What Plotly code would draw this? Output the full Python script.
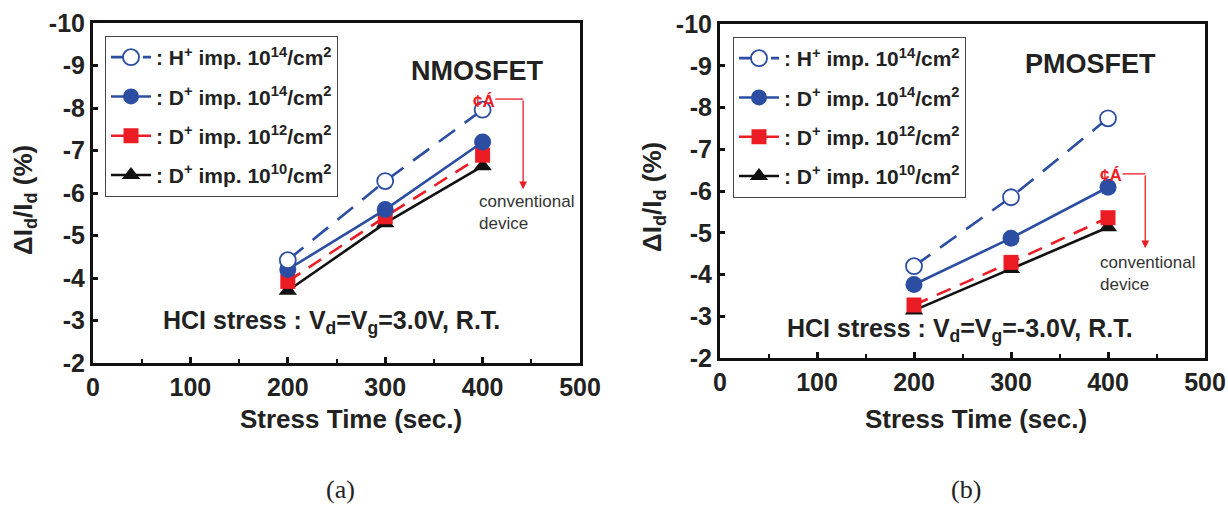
import plotly.graph_objects as go

# ---------------- data ----------------
stress_time = [200, 300, 400]

series_names = [
    ": H<sup>+</sup> imp. 10<sup>14</sup>/cm<sup>2</sup>",
    ": D<sup>+</sup> imp. 10<sup>14</sup>/cm<sup>2</sup>",
    ": D<sup>+</sup> imp. 10<sup>12</sup>/cm<sup>2</sup>",
    ": D<sup>+</sup> imp. 10<sup>10</sup>/cm<sup>2</sup>",
]

# (a) NMOSFET  ΔId/Id (%)
nmos_h14 = [-4.42, -6.28, -7.96]
nmos_d14 = [-4.20, -5.61, -7.20]
nmos_d12 = [-3.92, -5.44, -6.89]
nmos_d10 = [-3.70, -5.29, -6.63]

# (b) PMOSFET  ΔId/Id (%)
pmos_h14 = [-4.20, -5.85, -7.74]
pmos_d14 = [-3.76, -4.87, -6.09]
pmos_d12 = [-3.27, -4.29, -5.36]
pmos_d10 = [-3.14, -4.13, -5.13]

x_tick_vals = [0, 100, 200, 300, 400, 500]
x_tick_text = ["0", "100", "200", "300", "400", "500"]
y_tick_vals = [-10, -9, -8, -7, -6, -5, -4, -3, -2]
y_tick_text = ["-10", "-9", "-8", "-7", "-6", "-5", "-4", "-3", "-2"]

# ---------------- styles ----------------
W, H = 1228, 508
BLUE = "#2b4ea2"
RED = "#ec1c24"
BLACK = "#111111"
TXT = "#222222"
FONT = "Liberation Sans"

styles = [
    dict(color=BLUE, dash="20px,12px", symbol="circle-open", msize=16, mline=1.8),
    dict(color=BLUE, dash="solid", symbol="circle", msize=17, mline=0),
    dict(color=RED, dash="15px,10px", symbol="square", msize=15, mline=0),
    dict(color=BLACK, dash="solid", symbol="triangle-up", msize=16, mline=0),
]

fig = go.Figure()


def add_panel(values, xa, ya, legend_name):
    # draw bottom series first so that upper series markers sit on top
    for i in reversed(range(4)):
        st = styles[i]
        marker = dict(symbol=st["symbol"], size=st["msize"], color=st["color"])
        if st["symbol"] == "circle-open":
            marker = dict(symbol="circle", size=st["msize"], color="white",
                          line=dict(color=st["color"], width=st["mline"]))
        fig.add_trace(go.Scatter(
            x=stress_time, y=values[i], mode="lines+markers",
            name=series_names[i],
            line=dict(color=st["color"], width=2.6, dash=st["dash"]),
            marker=marker,
            xaxis=xa, yaxis=ya,
            legend=legend_name,
            legendgroup=legend_name + str(i),
            legendrank=i + 1,
        ))


add_panel([nmos_h14, nmos_d14, nmos_d12, nmos_d10], "x", "y", "legend")
add_panel([pmos_h14, pmos_d14, pmos_d12, pmos_d10], "x2", "y2", "legend2")


def px_x(p):
    return p / W


def px_y(p):
    return 1 - p / H


axis_common = dict(
    showgrid=False, zeroline=False, showline=True, linewidth=3, linecolor=BLACK,
    mirror=True, ticks="inside", tickwidth=2.5, tickcolor=BLACK, automargin=False,
    tickfont=dict(family=FONT, size=25, color=TXT, weight="bold"),
)

xaxis_common = dict(axis_common, range=[0, 500], tickmode="array",
                    tickvals=x_tick_vals, ticktext=x_tick_text, ticklen=6,
                    minor=dict(dtick=50, tick0=0, ticks="inside", ticklen=4,
                               tickwidth=2, tickcolor=BLACK))
yaxis_common = dict(axis_common, range=[-2, -10], tickmode="array",
                    tickvals=y_tick_vals, ticktext=y_tick_text, ticklen=5)

legend_common = dict(xanchor="left", yanchor="top", bgcolor="white",
                     bordercolor="#444444", borderwidth=1,
                     font=dict(family=FONT, size=21, color=TXT, weight="bold"),
                     tracegroupgap=9, itemwidth=40)

fig.update_layout(
    width=W, height=H,
    margin=dict(l=0, r=0, t=0, b=0, pad=0, autoexpand=False),
    paper_bgcolor="white", plot_bgcolor="white",
    font=dict(family=FONT, color=TXT),
    xaxis=dict(xaxis_common, domain=[px_x(93), px_x(580)], anchor="y"),
    yaxis=dict(yaxis_common, domain=[px_y(363), px_y(23)], anchor="x"),
    xaxis2=dict(xaxis_common, domain=[px_x(720), px_x(1205)], anchor="y2"),
    yaxis2=dict(yaxis_common, domain=[px_y(358), px_y(24)], anchor="x2"),
    legend=dict(legend_common, x=px_x(105), y=px_y(36)),
    legend2=dict(legend_common, x=px_x(733), y=px_y(37)),
    showlegend=True,
)


def paper_text(text, cx, cy, font, angle=0):
    return dict(text=text, x=px_x(cx), y=px_y(cy), xref="paper", yref="paper",
                showarrow=False, font=font, xanchor="center", yanchor="middle",
                textangle=angle)


title_font = dict(family=FONT, size=26, color=TXT, weight="bold")
ann = []
# axis titles
for cx in (351, 976):
    ann.append(paper_text("Stress Time (sec.)", cx, 419, title_font))
for cx, cy in ((25, 200), (653, 197)):
    ann.append(paper_text("ΔI<sub>d</sub>/I<sub>d</sub> (%)", cx, cy, title_font, angle=-90))
# panel titles
panel_font = dict(family=FONT, size=27, color=TXT, weight="bold")
ann.append(paper_text("NMOSFET", 477, 71, panel_font))
ann.append(paper_text("PMOSFET", 1090, 64, panel_font))
# stress condition
hci_font = dict(family=FONT, size=25, color=TXT, weight="bold")
ann.append(paper_text("HCI stress : V<sub>d</sub>=V<sub>g</sub>=3.0V, R.T.", 331, 322, hci_font))
ann.append(paper_text("HCI stress : V<sub>d</sub>=V<sub>g</sub>=-3.0V, R.T.", 960, 330, hci_font))
# sub-figure labels
sub_font = dict(family="Liberation Serif", size=26, color=TXT)
ann.append(paper_text("(a)", 340, 489, sub_font))
ann.append(paper_text("(b)", 966, 489, sub_font))

# red "conventional device" callouts (data coordinates)
callouts = [
    dict(xa="x", ya="y", tx=401.6, ty=-8.16, hx0=413, hx1=441.6, hy=-8.21, ay=-6.09, cx=394.5, cy=-5.55),
    dict(xa="x2", ya="y2", tx=403.5, ty=-6.36, hx0=415, hx1=438.4, hy=-6.41, ay=-4.63, cx=390, cy=-4.02),
]
shapes = []
for c in callouts:
    ann.append(dict(text="¢Á", x=c["tx"], y=c["ty"], xref=c["xa"], yref=c["ya"], showarrow=False,
                    xanchor="center", yanchor="middle",
                    font=dict(family=FONT, size=17, color=RED, weight="bold")))
    shapes.append(dict(type="line", xref=c["xa"], yref=c["ya"], x0=c["hx0"], x1=c["hx1"],
                       y0=c["hy"], y1=c["hy"], line=dict(color=RED, width=1.3)))
    ann.append(dict(text="", x=c["hx1"], y=c["ay"], ax=c["hx1"], ay=c["hy"], xref=c["xa"], yref=c["ya"],
                    axref=c["xa"], ayref=c["ya"], showarrow=True, arrowhead=2, arrowsize=1.2,
                    arrowwidth=1.3, arrowcolor=RED))
    ann.append(dict(text="conventional<br>device", x=c["cx"], y=c["cy"], xref=c["xa"], yref=c["ya"],
                    showarrow=False, xanchor="left", yanchor="middle", align="left",
                    font=dict(family=FONT, size=17, color="#333333")))

fig.update_layout(annotations=ann, shapes=shapes)

fig.write_html("out.html")
